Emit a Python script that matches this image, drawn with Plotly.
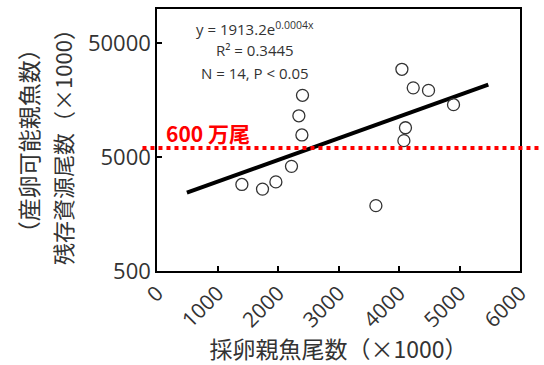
import plotly.graph_objects as go

# Data (x: 採卵親魚尾数 ×1000, y: 残存資源尾数 ×1000)
spawner_x = [1403, 1744, 1965, 2223, 2345, 2405, 2395, 3618, 4048, 4235, 4488, 4901, 4107, 4081]
stock_y = [2877, 2619, 3032, 4150, 11530, 17450, 7830, 1875, 29540, 20300, 19280, 14450, 9060, 6980]

# Trend line end points
trend_x = [494, 5476]
trend_y = [2440, 21700]

target_level = 6000  # 600万尾 (×1000)

x_ticks = [0, 1000, 2000, 3000, 4000, 5000, 6000]
y_ticks = [500, 5000, 50000]

FONT = "Open Sans, Noto Sans CJK JP, sans-serif"
CJK = "Noto Sans CJK JP, sans-serif"

fig = go.Figure()
fig.add_trace(go.Scatter(x=trend_x, y=trend_y, mode="lines",
                         line=dict(color="black", width=4), showlegend=False))
fig.add_trace(go.Scatter(x=spawner_x, y=stock_y, mode="markers",
                         marker=dict(symbol="circle-open", size=12, color="#333",
                                     line=dict(width=1.3, color="#333")),
                         showlegend=False))

fig.add_shape(type="line", xref="paper", yref="y", x0=-0.04, x1=1.06,
              y0=target_level, y1=target_level,
              line=dict(color="red", width=4, dash="dot"))

fig.add_annotation(text="<b>600 万尾</b>", xref="paper", yref="paper", x=0.02, y=0.525,
                   xanchor="left", yanchor="middle", showarrow=False,
                   font=dict(family=CJK, size=21, color="red"))

eq_lines = ["y = 1913.2e<sup>0.0004x</sup>", "R² = 0.3445", "N = 14, P < 0.05"]
eq_y = [0.925, 0.843, 0.757]
for t, yy in zip(eq_lines, eq_y):
    fig.add_annotation(text=t, xref="paper", yref="paper", x=0.27, y=yy,
                       xanchor="center", yanchor="middle", showarrow=False,
                       font=dict(family=FONT, size=15, color="#333"))

fig.add_annotation(text="（産卵可能親魚数）", xref="paper", yref="paper",
                   x=-0.355, y=0.496, xanchor="center", yanchor="middle",
                   textangle=-90, showarrow=False,
                   font=dict(family=CJK, size=23, color="#333"))
fig.add_annotation(text="残存資源尾数（×1000）", xref="paper", yref="paper",
                   x=-0.262, y=0.496, xanchor="center", yanchor="middle",
                   textangle=-90, showarrow=False,
                   font=dict(family=CJK, size=22, color="#333"))

fig.update_xaxes(range=[0, 6000], tickvals=x_ticks, ticktext=[str(v) for v in x_ticks],
                 tickangle=-45, ticks="inside", ticklen=5, tickwidth=1.5, tickcolor="black",
                 showline=True, linecolor="black", linewidth=1.5, mirror=True,
                 showgrid=False, zeroline=False,
                 tickfont=dict(family=FONT, size=21, color="#333"),
                 title=dict(text="採卵親魚尾数（×1000）", standoff=2,
                            font=dict(family=CJK, size=23, color="#333")))
fig.update_yaxes(type="log", range=[2.699, 5.0], tickvals=y_ticks,
                 ticktext=[str(v) for v in y_ticks],
                 ticks="inside", ticklen=5, tickwidth=1.5, tickcolor="black",
                 showline=True, linecolor="black", linewidth=1.5, mirror=True,
                 showgrid=False, zeroline=False,
                 tickfont=dict(family=FONT, size=22, color="#333"))

fig.update_layout(width=544, height=365, plot_bgcolor="white", paper_bgcolor="white",
                  margin=dict(l=157, r=24, t=7, b=94))

fig.write_html("out.html", config={"displayModeBar": False},
               post_script="document.body.style.margin='0';")
